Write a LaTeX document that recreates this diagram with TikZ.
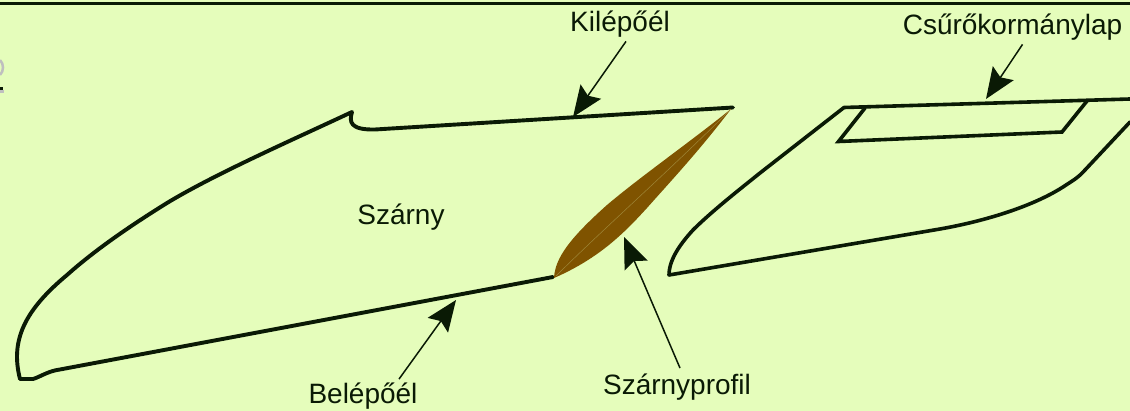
\documentclass[tikz,border=0pt]{standalone}
\usepackage{fontspec}
\setmainfont{Liberation Sans}
\usetikzlibrary{arrows.meta}
\definecolor{bg}{HTML}{E5FDBB}
\definecolor{ink}{HTML}{0A1A05}
\definecolor{foil}{HTML}{7F5300}
\tikzset{
  x=1pt,y=-1pt,
  outline/.style={draw=ink,line width=3.9pt,line join=round,line cap=round},
  lbl/.style={inner sep=0pt,font=\fontsize{28}{28}\selectfont,text=ink},
  pointer/.style={draw=ink,line width=1.5pt,-{Stealth[length=31pt,width=25pt,inset=5pt,fill=ink]}},
}
\begin{document}
\begin{tikzpicture}
\useasboundingbox (0,0) rectangle (1130,411);
\fill[bg] (0,0) rectangle (1130,411);
\draw[ink,line width=2.6pt] (0,3.5) -- (1130,3.5);
% cut-off glyph at the left edge
\draw[gray!50,line width=2.5pt] (0,60) .. controls (4,64) and (4,71) .. (0,75);
\fill[ink] (0,87) rectangle (3,90);
\fill[gray!50] (0,90) rectangle (4,93);
% wing
\path[outline] (553,277) -- (60,369.5) .. controls (48,371) and (40,377) .. (33,379) -- (20,379)
  .. controls (10,340) and (25,310) .. (67,275)
  .. controls (95,250) and (130,226) .. (167,203)
  .. controls (215,174) and (290,141) .. (352,112)
  .. controls (349,122) and (350,130) .. (375,129.5)
  -- (733,107.5);
% profile
\fill[foil] (554,278) .. controls (555,258) and (570,238) .. (607,205)
  .. controls (640,177) and (690,142) .. (731,109)
  .. controls (700,150) and (670,182) .. (647,208)
  .. controls (625,232) and (600,258) .. (554,278) -- cycle;
\draw[foil!70!bg,line width=.5pt] (556,276) .. controls (600,232) and (670,170) .. (731,109);
% aileron wing
\path[outline,line width=3.6pt] (1130,99) -- (844,107.5) -- (760,173)
  .. controls (735,193) and (710,213) .. (693,230)
  .. controls (683,241) and (669,258) .. (669,275)
  -- (940,229)
  .. controls (980,222) and (1030,208) .. (1063,187)
  .. controls (1072,181) and (1078,178) .. (1085,170)
  -- (1130,122);
\path[outline,line width=3.6pt,line join=miter] (865,108) -- (838.5,141.5) -- (1062,132) -- (1087,101);
% labels
\node[lbl] (kil) at (620,24) {Kilépőél};
\node[lbl] (csu) at (1012.5,27) {Csűrőkormánylap};
\node[lbl] (szy) at (401,217) {Szárny};
\node[lbl] (bel) at (363,396.5) {Belépőél};
\node[lbl] (szp) at (677,387.5) {Szárnyprofil};
\coordinate (kiltip) at (573,117);
\coordinate (csutip) at (986,99);
\coordinate (beltip) at (456,300);
\coordinate (szptip) at (624,237);
\draw[pointer] ([xshift=6pt,yshift=-4pt]kil.south) -- (kiltip);
\draw[pointer] ([xshift=10pt,yshift=-4pt]csu.south) -- (csutip);
\draw[pointer] ([xshift=36pt,yshift=4pt]bel.north) -- (beltip);
\draw[pointer] ([xshift=3pt,yshift=6pt]szp.north) -- (szptip);
\end{tikzpicture}
\end{document}
